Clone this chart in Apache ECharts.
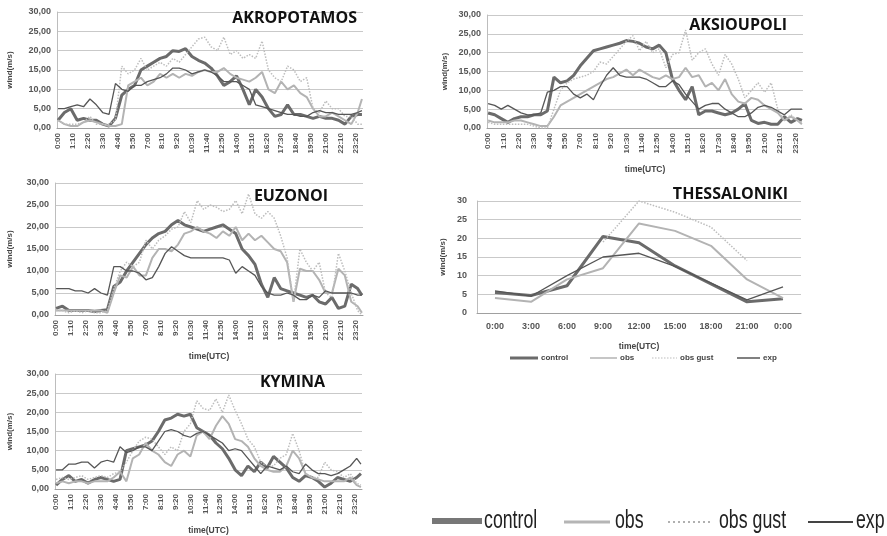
<!DOCTYPE html>
<html><head><meta charset="utf-8">
<script src="https://cdn.jsdelivr.net/npm/echarts@6/dist/echarts.min.js"></script>
<style>html,body{margin:0;padding:0;background:#fff}#c{width:887px;height:536px}</style>
</head><body><div id="c"></div>
<script>
// 10-minute category labels 0:00 ... 23:50
const categories = [];
for (let h = 0; h < 24; h++) for (let m = 0; m < 60; m += 10) categories.push(h + ':' + (m < 10 ? '0' + m : m));

const sampleTimes = ["0:00","0:30","1:00","1:30","2:00","2:30","3:00","3:30","4:00","4:30","5:00","5:30","6:00","6:30","7:00","7:30","8:00","8:30","9:00","9:30","10:00","10:30","11:00","11:30","12:00","12:30","13:00","13:30","14:00","14:30","15:00","15:30","16:00","16:30","17:00","17:30","18:00","18:30","19:00","19:30","20:00","20:30","21:00","21:30","22:00","22:30","23:00","23:30","23:50"];

const seriesNames = ['control', 'obs', 'obs gust', 'exp'];

// AKROPOTAMOS
const akroControl = [2,4,5,2,2.5,2,2,1,0.5,2.5,8.5,10,11,15,16,17,18,18.5,20,19.8,20.5,18.5,17.5,16.8,15.5,13.5,11,12,13.5,10,6,10,8,5,3,3.5,6,3.5,3.5,3,2.5,3,2.5,2.5,2,1,3,3.5,3.5];
const akroObs = [2,1,0.5,0.5,1.5,2,1.5,1,0.5,0.5,1,11,12,13,11,12,14,13,14,13,14,13.5,14.5,15,14.5,14.5,15.5,14,13,12.5,12,13,14.5,10,9,12,10,11,9,8,5,3,3,4,3,2,1,4,7.5];
const akroGust = [2,1,1,1,1.5,3,1,1,1,2,16,14,15,18,15,16,17,16,18,17,19,21,23,23.5,21,20,23.5,19,20,18,19,18,22.5,15,13,12,16,15,12,13,5,4,7,5,5,3,3,1,1];
const akroExp = [5,5,5.5,6,5.5,7.5,6,4,3.5,11.5,10,9.5,11,11,12,12.5,13,14,15.5,15.5,15,14,14.5,15,14.5,13.5,12,12,12,11,10,6,5.5,5,4.5,4,3.5,3.5,3,3,4,4.5,4,4,3.5,3.5,3.5,4,4.5];

// AKSIOUPOLI
const aksControl = [4,3.5,2.5,1.5,2.5,3,3,3.5,3.5,4.5,13.5,12,12.5,14,16.5,18.5,20.5,21,21.5,22,22.5,23.2,23,22.5,21.5,21,22,20,13,10,7.5,11,3.5,4.5,4.5,4,3.5,4,5,6.5,2,1.2,1.5,1,1,3,1.5,2.5,2];
const aksObs = [2,1.5,1.5,1.5,2,2,1.5,1,0.5,0.5,3,6,7,8,9,10,11,12,13,13.5,14.5,15.5,14,15.5,14.5,13.5,13,14,13,13.5,16,13.5,14,11,12,10,13,9,7,6.5,8,7.5,6,5,4,2,3,2,1];
const aksGust = [1.5,1,1,1,1,1,1,0.5,0,0,5,10,12,13,13.5,14,15,17.5,17,19,21,23,24.5,20.5,23,20,21,16,19.5,20,26,18,20,21,17,14,19.5,17,13,8,10,12,9.5,12,5,2,3.5,2,1.5];
const aksExp = [6.5,6,5,6,5,4,3.5,3.5,4,9.5,10,11,11,9,8,9,7.5,11,14,16,14,13.5,13.5,13.5,13,12,11,11,12.5,11.5,9,7,5,6,6.5,6.5,5,4,3,3,4,5.5,6,5.5,4.5,3.5,5,5,5];

// EUZONOI
const euzControl = [1.5,2,1,1,1,1,0.8,1,1.2,6.5,7.5,10,12,14,16,17.5,18.5,19,20.5,21.5,20.5,20,19.5,19,19.5,20,20.5,19.5,18.5,15,13.5,11.5,7,4,8.5,6,5.5,5,4.5,4,4.5,3,2.5,4,1.5,2,7,6,4.5];
const euzObs = [1,1,1,1,1,1,1,1,0.5,5,9,8.5,11,9,9,13,15,15,14.5,16,18.5,19,20,19,18.5,17.5,19,18,20,17,18.5,17,18,16.5,15,14.5,12,3,10.5,10,10,8,5,5,10.5,9,3,2,0.5];
const euzGust = [1,1,0.5,1,0.5,1,0.5,0.5,1,6,10,12,11,12,17,15,17,18,19.5,20,23.5,21,26,24,25,24.5,23.5,24,26,23,27.5,23,22,23.5,22,18,13,3,15,12,10,12,5,4,14,10,5,1,0];
const euzExp = [6,6,6,5.5,5.5,5,6,5,4.5,11,11,10,10,9.5,8,8.5,11,14,15.5,14.5,13.5,13,13,13,13,13,13,12.5,9.5,11,10,9,6.5,5,4.5,4.5,5,4.5,3.5,3.5,4.5,4,5.5,5,5,5,5,4.5,4.5];

// KYMINA
const kymControl = [1,2.5,3.5,2,2.5,1.5,2.5,3,2.5,2,2.5,10,10.5,11,11.5,12.5,15,18,18.5,19.5,19,19.5,16,15,14,12,10.5,8,5,3.5,6,4.5,7,5.5,8.5,7,5.5,3,2,3.5,3,2,0.5,1.5,3,2.5,2,3,4];
const kymObs = [1.5,2,1.5,2,2,1.5,2,2,2,3,4.5,2,8,9,12,10,9,7,6,9,10,8.5,14,15,13,16.5,19,17,13,12.5,11,8,6,5,4.5,4.5,6,10,8,4,3,2.5,2,2,2,2,3,1,0.5];
const kymGust = [2.5,3,2.5,3,3.5,2.5,3,3.5,3,4,4.5,7,10,12.5,13.5,13,11,9,11,10,15,17,23,21,20.5,23.5,20,24.5,20.5,17,13,11,7,6,6,8,9,14.5,10,4,3,3,7,5,4.5,3,4,1.5,1];
const kymExp = [5,5,6.5,6.5,7,7,5.5,7,7.5,7,11,9.5,10,11,11,10,12.5,15,15.5,15,14,13.5,14.5,15,14,13,12,10,10.5,10,8,6,4,6,5.5,5,6,4.5,4,6.5,5,4,4,3.5,4,5,6,8,6.5];

// THESSALONIKI
const thesLabels = ['0:00','3:00','6:00','9:00','12:00','15:00','18:00','21:00','0:00'];
const thesControl = [5.5,4.7,7.3,20.5,18.8,12.6,7.8,3,3.8];
const thesObs = [4,3,9,12,24,22,18,9,4];
const thesGust = [null,null,null,19,30,27,23,14,null];
const thesExp = [5.9,4.5,10,15,16,12.5,8,3.5,7];

const styles = {
  'control': {color: '#6b6b6b', width: 3, type: 'solid'},
  'obs': {color: '#b3b3b3', width: 2, type: 'solid'},
  'obs gust': {color: '#bdbdbd', width: 1.5, type: 'dotted'},
  'exp': {color: '#565656', width: 1.3, type: 'solid'}
};

const panels = [
  {title: 'AKROPOTAMOS', grid: {left: 57, top: 12, width: 306, height: 116}, tpos: {right: 530, top: 10}, xName: '', yGap: 43, data: [akroControl, akroObs, akroGust, akroExp]},
  {title: 'EUZONOI', grid: {left: 55, top: 183, width: 308, height: 132}, tpos: {right: 559, top: 188}, xName: 'time(UTC)', yGap: 41, data: [euzControl, euzObs, euzGust, euzExp]},
  {title: 'KYMINA', grid: {left: 55, top: 374, width: 307, height: 118}, tpos: {right: 562, top: 374}, xName: 'time(UTC)', yGap: 41, data: [kymControl, kymObs, kymGust, kymExp]},
  {title: 'AKSIOUPOLI', grid: {left: 487, top: 15, width: 316, height: 113}, tpos: {right: 100, top: 17}, xName: 'time(UTC)', yGap: 38, data: [aksControl, aksObs, aksGust, aksExp]}
];

const labelFont = 'Liberation Sans';
const titleStyle = {fontFamily: 'Open Sans', fontWeight: 'bold', fontSize: 16, color: '#111'};
const grids = [], xAxes = [], yAxes = [], series = [], titles = [];

panels.forEach((p, i) => {
  grids.push(Object.assign({containLabel: false}, p.grid));
  titles.push({text: p.title, right: p.tpos.right, top: p.tpos.top, padding: 0, textStyle: titleStyle});
  xAxes.push({
    type: 'category', gridIndex: i, data: categories, boundaryGap: true,
    name: p.xName, nameLocation: 'middle', nameGap: 37,
    nameTextStyle: {fontFamily: labelFont, fontWeight: 'bold', fontSize: 8.5, color: '#444'},
    axisLine: {lineStyle: {color: '#a0a0a0', width: 1}},
    axisTick: {interval: 0, length: 2, lineStyle: {color: '#b0b0b0'}},
    axisLabel: {interval: 6, rotate: 90, fontSize: 8, margin: 5, color: '#555', fontFamily: labelFont, fontWeight: 'bold'},
    splitLine: {show: false}
  });
  yAxes.push({
    type: 'value', gridIndex: i, min: 0, max: 30, interval: 5,
    name: 'wind(m/s)', nameLocation: 'middle', nameGap: p.yGap, nameRotate: 90,
    nameTextStyle: {fontFamily: labelFont, fontWeight: 'bold', fontSize: 8, color: '#444'},
    axisLine: {show: true, lineStyle: {color: '#bdbdbd'}},
    axisTick: {show: false},
    axisLabel: {fontSize: 9, color: '#555', fontFamily: labelFont, fontWeight: 'bold', margin: 6,
      formatter: v => v.toFixed(2).replace('.', ',')},
    splitLine: {lineStyle: {color: '#c9c9c9', width: 1}}
  });
  p.data.forEach((arr, k) => {
    const name = seriesNames[k];
    const st = styles[name];
    series.push({
      type: 'line', name: name, xAxisIndex: i, yAxisIndex: i, symbol: 'none', silent: true,
      color: st.color, lineStyle: {color: st.color, width: st.width, type: st.type},
      data: sampleTimes.map((t, j) => [categories.indexOf(t), arr[j]])
    });
  });
});

// THESSALONIKI
const ti = panels.length;
grids.push({left: 477, top: 201, width: 324, height: 112, containLabel: false});
titles.push({text: 'THESSALONIKI', right: 99, top: 186, padding: 0, textStyle: titleStyle});
xAxes.push({
  type: 'category', gridIndex: ti, data: thesLabels, boundaryGap: true,
  name: 'time(UTC)', nameLocation: 'middle', nameGap: 29,
  nameTextStyle: {fontFamily: labelFont, fontWeight: 'bold', fontSize: 8.5, color: '#444'},
  axisLine: {lineStyle: {color: '#a0a0a0'}},
  axisTick: {length: 4, lineStyle: {color: '#a0a0a0'}},
  axisLabel: {fontSize: 9, margin: 9, color: '#555', fontFamily: labelFont, fontWeight: 'bold'},
  splitLine: {show: false}
});
yAxes.push({
  type: 'value', gridIndex: ti, min: 0, max: 30, interval: 5,
  name: 'wind(m/s)', nameLocation: 'middle', nameGap: 30, nameRotate: 90,
  nameTextStyle: {fontFamily: labelFont, fontWeight: 'bold', fontSize: 8, color: '#444'},
  axisLine: {show: true, lineStyle: {color: '#bdbdbd'}},
  axisTick: {show: false},
  axisLabel: {fontSize: 9, color: '#555', fontFamily: labelFont, fontWeight: 'bold', margin: 10},
  splitLine: {lineStyle: {color: '#c9c9c9'}}
});
[thesControl, thesObs, thesGust, thesExp].forEach((arr, k) => {
  const name = seriesNames[k];
  const st = styles[name];
  series.push({
    type: 'line', name: name, xAxisIndex: ti, yAxisIndex: ti, symbol: 'none', silent: true,
    color: st.color, lineStyle: {color: st.color, width: st.width, type: st.type},
    data: arr
  });
});

// legend keys drawn as graphic elements
function key(x1, x2, y, st, w, dash) {
  return {type: 'line', silent: true, shape: {x1: x1, y1: y, x2: x2, y2: y},
    style: {stroke: st.color, lineWidth: w, lineDash: dash || null}};
}
function label(x, y, text, font, fill, sx) {
  return {type: 'text', silent: true, x: x, y: y, scaleX: sx || 1,
    style: {text: text, font: font, fill: fill, textVerticalAlign: 'middle', x: 0, y: 0}};
}
const smallFont = 'bold 8px "Liberation Sans"';
const bigFont = '25px "Liberation Sans"';
const graphics = [
  // THESSALONIKI legend
  key(510, 538, 358, styles['control'], 3),
  label(541, 358, 'control', smallFont, '#444'),
  key(590, 617, 358, styles['obs'], 1.5),
  label(620, 358, 'obs', smallFont, '#444'),
  key(652, 677, 358, styles['obs gust'], 1.2, [1.5, 1.5]),
  label(680, 358, 'obs gust', smallFont, '#444'),
  key(737, 760, 358, styles['exp'], 1.5),
  label(763, 358, 'exp', smallFont, '#444'),
  // big legend
  key(432, 482, 521, {color: '#777'}, 6),
  label(484, 521, 'control', bigFont, '#222', 0.71),
  key(564, 610, 522, {color: '#b5b5b5'}, 3),
  label(615, 521, 'obs', bigFont, '#222', 0.71),
  key(668, 710, 522, {color: '#b0b0b0'}, 2, [2, 3]),
  label(719, 521, 'obs gust', bigFont, '#222', 0.71),
  key(808, 853, 522, {color: '#444'}, 2),
  label(856, 521, 'exp', bigFont, '#222', 0.71)
];

const chart = echarts.init(document.getElementById('c'), null, {renderer: 'canvas'});
chart.setOption({
  animation: false,
  backgroundColor: '#fff',
  title: titles,
  grid: grids,
  xAxis: xAxes,
  yAxis: yAxes,
  graphic: {elements: graphics},
  series: series
});
</script>
</body></html>
